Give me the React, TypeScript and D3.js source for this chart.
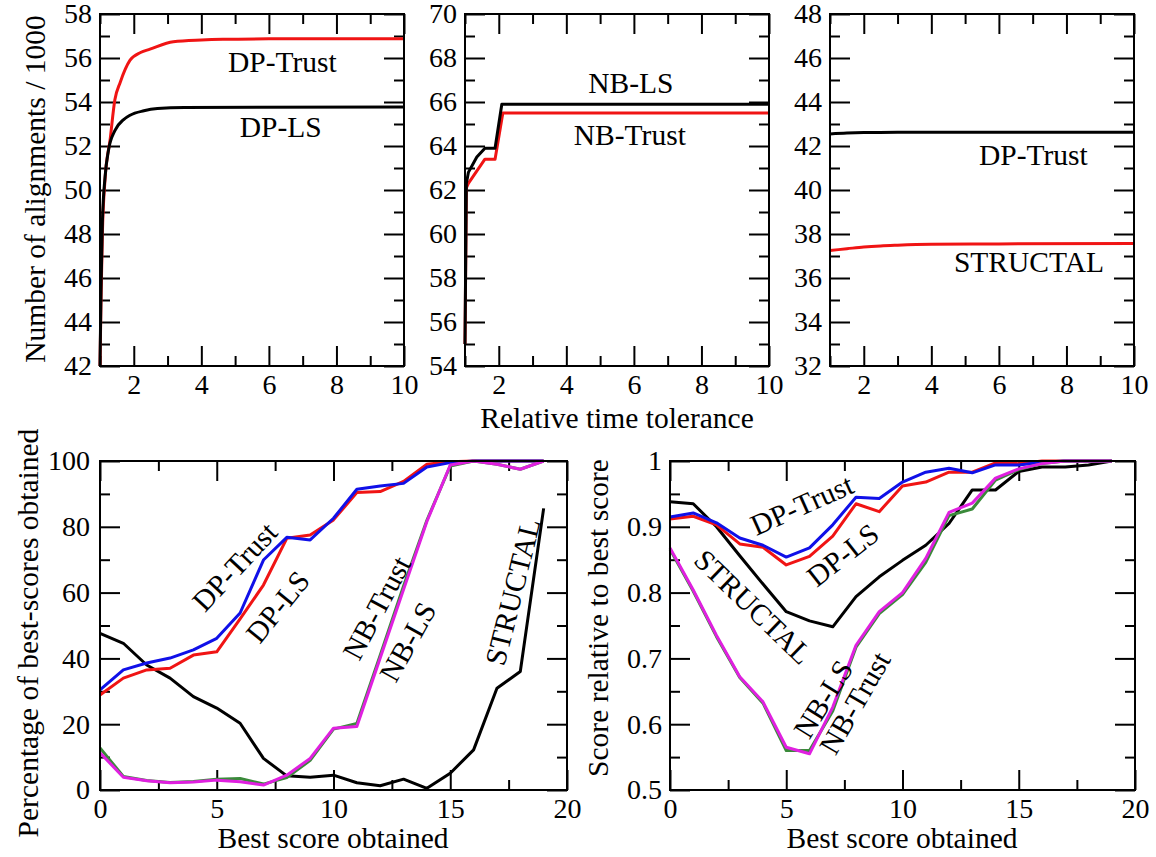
import React, { useRef, useEffect } from "react";
import * as d3 from "d3";

const FONT = "'Liberation Serif', 'Times New Roman', serif";
const RED = "#f01414";
const BLUE = "#1010e8";
const MAGENTA = "#e020e0";
const GREEN = "#3a8a3a";
const BLACK = "#000";

// ---- top row: number of alignments / 1000 vs relative time tolerance ----
const dpTrustTolX = [1, 1.03, 1.07, 1.15, 1.3, 1.44, 1.6, 1.89, 2.2, 2.48, 3.17, 4, 4.64, 6, 10];
const dpTrustTolY = [42, 45, 48, 50.5, 52.3, 54.1, 54.9, 55.9, 56.25, 56.4, 56.74, 56.82, 56.85, 56.87, 56.88];
const dpLsTolX = [1, 1.03, 1.07, 1.15, 1.25, 1.44, 1.7, 1.89, 2.3, 2.7, 3.5, 10];
const dpLsTolY = [42, 45.5, 48.5, 50.6, 51.8, 52.7, 53.2, 53.4, 53.6, 53.7, 53.75, 53.77];

const nbLsTolX = [1, 1.04, 1.1, 1.35, 1.59, 1.89, 2.09, 10];
const nbLsTolY = [55, 62.3, 62.8, 63.5, 63.9, 63.9, 65.9, 65.9];
const nbTrustTolX = [1, 1.04, 1.1, 1.59, 1.89, 2.12, 10];
const nbTrustTolY = [55, 62.1, 62.3, 63.4, 63.4, 65.5, 65.5];

const dpTrust2TolX = [1, 1.5, 2, 3, 10];
const dpTrust2TolY = [42.55, 42.59, 42.61, 42.62, 42.62];
const structalTolX = [1, 1.5, 2, 2.5, 3, 4, 6, 10];
const structalTolY = [37.25, 37.33, 37.41, 37.46, 37.49, 37.53, 37.55, 37.57];

// ---- bottom row: best score obtained ----
const bestScore = [0, 1, 2, 3, 4, 5, 6, 7, 8, 9, 10, 11, 12, 13, 14, 15, 16, 17, 18, 19];

const pctDpTrust = [30.4, 36.5, 38.6, 40.1, 42.6, 46.1, 53.8, 69.9, 76.8, 76.0, 82.6, 91.4, 92.4, 93.2, 98.2, 99.5, 100, 100, 100, 100];
const pctDpLs = [28.9, 34, 36.5, 37, 41, 42, 52, 62.3, 76.5, 77.5, 82.1, 90.4, 90.7, 93.8, 99, 99.8, 100, 100, 100, 100];
const pctStructal = [47.6, 44.6, 38, 34, 28.4, 24.9, 20.3, 9.6, 4.3, 3.9, 4.5, 2.2, 1.3, 3.3, 0.5, 5.1, 12.2, 30.9, 36, 85.6];
const pctNbLs = [11.3, 3.9, 2.8, 2.2, 2.4, 3, 2.5, 1.5, 4.5, 9.6, 18.8, 19.3, 40.1, 60.9, 81.6, 98.8, 100, 99, 97.5, 100];
const pctNbTrust = [12.8, 4.1, 2.9, 2.3, 2.6, 3.3, 3.5, 1.8, 3.8, 9, 18.5, 20.2, 41, 62, 82, 98.5, 100, 99, 97.5, 100];

const relDpTrust = [0.915, 0.921, 0.906, 0.883, 0.872, 0.854, 0.868, 0.903, 0.945, 0.943, 0.968, 0.983, 0.989, 0.982, 0.994, 0.994, 0.998, 1, 1, 1];
const relDpLs = [0.912, 0.916, 0.903, 0.874, 0.869, 0.842, 0.855, 0.886, 0.935, 0.923, 0.962, 0.968, 0.983, 0.983, 0.997, 0.996, 1, 1, 1, 1];
const relStructal = [0.938, 0.935, 0.9, 0.856, 0.813, 0.771, 0.757, 0.748, 0.794, 0.824, 0.849, 0.872, 0.905, 0.956, 0.956, 0.984, 0.991, 0.991, 0.994, 1];
const relNbLs = [0.868, 0.804, 0.735, 0.672, 0.634, 0.565, 0.555, 0.626, 0.72, 0.771, 0.8, 0.852, 0.922, 0.936, 0.974, 0.988, 0.996, 1, 1, 1];
const relNbTrust = [0.866, 0.802, 0.733, 0.671, 0.632, 0.56, 0.56, 0.62, 0.717, 0.768, 0.797, 0.846, 0.917, 0.927, 0.971, 0.987, 0.996, 1, 1, 1];

// tick values
const tolMajor = [2, 4, 6, 8, 10];
const tolMinor = [1, 3, 5, 7, 9];
const scoreMajor = [0, 5, 10, 15, 20];
const scoreMinor = [2.5, 7.5, 12.5, 17.5];
const pctMajor = [0, 20, 40, 60, 80, 100];
const pctMinor = [10, 30, 50, 70, 90];
const relMajor = [0.5, 0.6, 0.7, 0.8, 0.9, 1];
const relMinor = [0.55, 0.65, 0.75, 0.85, 0.95];

const TICK_FONT = 28;
const LABEL_FONT = 29.5;

const evenTicks = (lo, hi) => {
  const out = [];
  for (let v = lo; v <= hi; v += 2) out.push(v);
  return out;
};

function drawPanel(svg, p) {
  const x = d3.scaleLinear().domain(p.xDomain).range([p.left, p.right]);
  const y = d3.scaleLinear().domain(p.yDomain).range([p.bottom, p.top]);
  const g = svg.append("g");

  const styleAxis = (sel) => {
    sel.select(".domain").remove();
    sel.selectAll("line").attr("stroke", "#000").attr("stroke-width", 2);
    sel.selectAll("text").attr("font-family", FONT).attr("font-size", TICK_FONT).attr("fill", "#000");
  };
  const blank = () => "";

  // inward ticks on all four sides
  g.append("g").attr("transform", `translate(0,${p.bottom})`)
    .call(d3.axisBottom(x).tickValues(p.xMajor).tickSize(-20).tickPadding(8).tickFormat(p.xFmt))
    .call(styleAxis);
  g.append("g").attr("transform", `translate(0,${p.bottom})`)
    .call(d3.axisBottom(x).tickValues(p.xMinor).tickSize(-10).tickFormat(blank))
    .call(styleAxis);
  g.append("g").attr("transform", `translate(0,${p.top})`)
    .call(d3.axisTop(x).tickValues(p.xMajor).tickSize(-20).tickFormat(blank))
    .call(styleAxis);
  g.append("g").attr("transform", `translate(0,${p.top})`)
    .call(d3.axisTop(x).tickValues(p.xMinor).tickSize(-10).tickFormat(blank))
    .call(styleAxis);
  g.append("g").attr("transform", `translate(${p.left},0)`)
    .call(d3.axisLeft(y).tickValues(p.yMajor).tickSize(-20).tickPadding(p.yPad || 8).tickFormat(p.yFmt))
    .call(styleAxis);
  g.append("g").attr("transform", `translate(${p.left},0)`)
    .call(d3.axisLeft(y).tickValues(p.yMinor).tickSize(-10).tickFormat(blank))
    .call(styleAxis);
  g.append("g").attr("transform", `translate(${p.right},0)`)
    .call(d3.axisRight(y).tickValues(p.yMajor).tickSize(-20).tickFormat(blank))
    .call(styleAxis);
  g.append("g").attr("transform", `translate(${p.right},0)`)
    .call(d3.axisRight(y).tickValues(p.yMinor).tickSize(-10).tickFormat(blank))
    .call(styleAxis);

  // series
  p.series.forEach((s) => {
    const line = d3.line()
      .x((d, i) => x(s.xs[i]))
      .y((d) => y(d))
      .curve(s.smooth ? d3.curveMonotoneX : d3.curveLinear);
    g.append("path")
      .attr("d", line(s.ys))
      .attr("fill", "none")
      .attr("stroke", s.color)
      .attr("stroke-width", 3)
      .attr("stroke-linejoin", "round");
  });

  // frame
  g.append("rect")
    .attr("x", p.left).attr("y", p.top)
    .attr("width", p.right - p.left).attr("height", p.bottom - p.top)
    .attr("fill", "none").attr("stroke", "#000").attr("stroke-width", 2);

  // in-plot labels (positioned by their visual centre)
  p.labels.forEach((l) => {
    g.append("text")
      .attr("transform", `translate(${x(l.x)},${y(l.y)}) rotate(${l.angle})`)
      .attr("text-anchor", "middle")
      .attr("dy", "0.33em")
      .attr("font-family", FONT)
      .attr("font-size", LABEL_FONT)
      .attr("fill", "#000")
      .text(l.text);
  });
}

const App = () => {
  const svgRef = useRef(null);

  useEffect(() => {
    const svg = d3.select(svgRef.current);
    svg.selectAll("*").remove();

    const topCommon = {
      top: 14, bottom: 366, xDomain: [1, 10],
      xMajor: tolMajor, xMinor: tolMinor, xFmt: d3.format("d"), yFmt: d3.format("d"),
    };

    drawPanel(svg, {
      ...topCommon, left: 100, right: 404, yDomain: [42, 58],
      yMajor: evenTicks(42, 58), yMinor: evenTicks(43, 57),
      series: [
        { xs: dpTrustTolX, ys: dpTrustTolY, color: RED, smooth: true },
        { xs: dpLsTolX, ys: dpLsTolY, color: BLACK, smooth: true },
      ],
      labels: [
        { text: "DP-Trust", x: 6.4, y: 55.8, angle: 0 },
        { text: "DP-LS", x: 6.35, y: 52.84, angle: 0 },
      ],
    });

    drawPanel(svg, {
      ...topCommon, left: 465, right: 769, yDomain: [54, 70],
      yMajor: evenTicks(54, 70), yMinor: evenTicks(55, 69),
      series: [
        { xs: nbTrustTolX, ys: nbTrustTolY, color: RED },
        { xs: nbLsTolX, ys: nbLsTolY, color: BLACK },
      ],
      labels: [
        { text: "NB-LS", x: 5.91, y: 66.86, angle: 0 },
        { text: "NB-Trust", x: 5.88, y: 64.5, angle: 0 },
      ],
    });

    drawPanel(svg, {
      ...topCommon, left: 830, right: 1134, yDomain: [32, 48],
      yMajor: evenTicks(32, 48), yMinor: evenTicks(33, 47),
      series: [
        { xs: structalTolX, ys: structalTolY, color: RED, smooth: true },
        { xs: dpTrust2TolX, ys: dpTrust2TolY, color: BLACK, smooth: true },
      ],
      labels: [
        { text: "DP-Trust", x: 7.02, y: 41.57, angle: 0 },
        { text: "STRUCTAL", x: 6.89, y: 36.7, angle: 0 },
      ],
    });

    const botCommon = {
      top: 461, bottom: 790, xDomain: [0, 20],
      xMajor: scoreMajor, xMinor: scoreMinor, xFmt: d3.format("d"),
    };

    drawPanel(svg, {
      ...botCommon, left: 100, right: 567, yDomain: [0, 100],
      yMajor: pctMajor, yMinor: pctMinor, yFmt: d3.format("d"), yPad: 10,
      series: [
        { xs: bestScore, ys: pctStructal, color: BLACK },
        { xs: bestScore, ys: pctDpLs, color: RED },
        { xs: bestScore, ys: pctDpTrust, color: BLUE },
        { xs: bestScore, ys: pctNbTrust, color: GREEN },
        { xs: bestScore, ys: pctNbLs, color: MAGENTA },
      ],
      labels: [
        { text: "DP-Trust", x: 5.78, y: 67.8, angle: -47 },
        { text: "DP-LS", x: 7.62, y: 55.6, angle: -51 },
        { text: "NB-Trust", x: 11.86, y: 55.3, angle: -62 },
        { text: "NB-LS", x: 13.19, y: 45, angle: -61 },
        { text: "STRUCTAL", x: 17.69, y: 60.2, angle: -76 },
      ],
    });

    drawPanel(svg, {
      ...botCommon, left: 670, right: 1135, yDomain: [0.5, 1],
      yMajor: relMajor, yMinor: relMinor, yFmt: (d) => (d === 1 ? "1" : d.toFixed(1)),
      series: [
        { xs: bestScore, ys: relStructal, color: BLACK },
        { xs: bestScore, ys: relDpLs, color: RED },
        { xs: bestScore, ys: relDpTrust, color: BLUE },
        { xs: bestScore, ys: relNbTrust, color: GREEN },
        { xs: bestScore, ys: relNbLs, color: MAGENTA },
      ],
      labels: [
        { text: "DP-Trust", x: 5.68, y: 0.933, angle: -24 },
        { text: "DP-LS", x: 7.44, y: 0.857, angle: -38 },
        { text: "STRUCTAL", x: 3.57, y: 0.778, angle: 44 },
        { text: "NB-LS", x: 6.6, y: 0.638, angle: -58 },
        { text: "NB-Trust", x: 7.96, y: 0.632, angle: -60 },
      ],
    });

    // axis titles
    const title = (text, x, y, angle) => {
      svg.append("text")
        .attr("transform", `translate(${x},${y}) rotate(${angle})`)
        .attr("text-anchor", "middle")
        .attr("dy", "0.33em")
        .attr("font-family", FONT)
        .attr("font-size", LABEL_FONT)
        .attr("fill", "#000")
        .text(text);
    };
    title("Relative time tolerance", 617, 418, 0);
    title("Best score obtained", 333, 838, 0);
    title("Best score obtained", 902, 838, 0);
    title("Number of alignments / 1000", 35, 189, -90);
    title("Percentage of best-scores obtained", 28, 633, -90);
    title("Score relative to best score", 598, 618, -90);
  }, []);

  return (
    <svg
      ref={svgRef}
      width={1156}
      height={857}
      style={{ position: "absolute", left: 0, top: 0, background: "#fff" }}
    ></svg>
  );
};

export default App;
